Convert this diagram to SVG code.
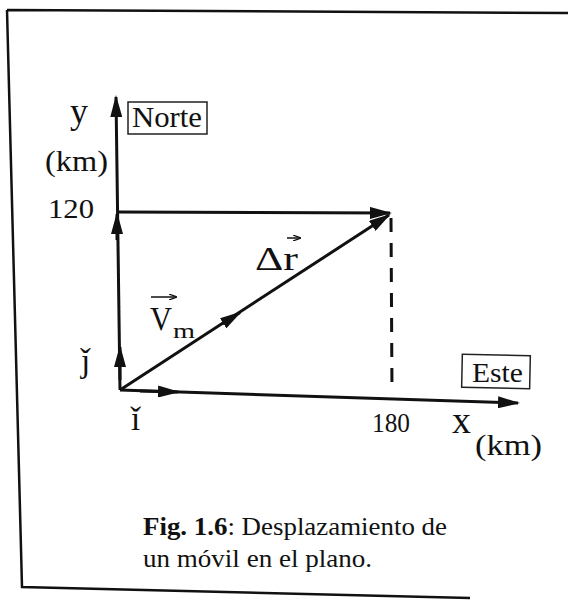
<svg xmlns="http://www.w3.org/2000/svg" width="568" height="601" viewBox="0 0 568 601">
<style>
text{font-family:"Liberation Serif","Times New Roman",serif;fill:#111}
.ax{stroke:#111;stroke-width:3;fill:none}
.fr{stroke:#111;stroke-width:2.5;fill:none}
.box{stroke:#222;stroke-width:1.5;fill:#fff}
.vec{stroke:#111;stroke-width:1.5;fill:none}
</style>
<defs>
<marker id="ah" viewBox="0 0 22 12" refX="20" refY="6" markerWidth="22" markerHeight="12" orient="auto" markerUnits="userSpaceOnUse">
<path d="M0,0 L22,6 L0,12 z" fill="#111"/>
</marker>
<marker id="sh" viewBox="0 0 8 6" refX="7" refY="3" markerWidth="8" markerHeight="6" orient="auto" markerUnits="userSpaceOnUse">
<path d="M0,0 L8,3 L0,6" fill="none" stroke="#111" stroke-width="1.2"/>
</marker>
</defs>
<rect width="568" height="601" fill="#fff"/>
<g id="frame">
<path class="fr" d="M7,10 L568,13 M7,10 L22,587 L470,598"/>
</g>
<g id="connectors">
<line id="y-axis" class="ax" x1="120" y1="390" x2="116" y2="97" marker-end="url(#ah)"/>
<line id="x-axis" class="ax" x1="120" y1="390" x2="518" y2="403" marker-end="url(#ah)"/>
<line id="y-component" class="ax" x1="117" y1="240" x2="117" y2="214" marker-end="url(#ah)"/>
<line id="x-component" class="ax" x1="117" y1="212" x2="390" y2="213" marker-end="url(#ah)"/>
<line id="delta-r" class="ax" x1="120" y1="390" x2="389" y2="215" marker-end="url(#ah)"/>
<line id="vm-mid" class="ax" x1="222" y1="324" x2="240" y2="312.5" marker-end="url(#ah)"/>
<line id="j-unit" class="ax" x1="120" y1="380" x2="120" y2="347" marker-end="url(#ah)"/>
<line id="i-unit" class="ax" x1="140" y1="391" x2="178" y2="392" marker-end="url(#ah)"/>
<line id="dashed" class="ax" x1="391" y1="218" x2="392" y2="392" stroke-dasharray="14 11"/>
</g>
<g id="norte">
<rect class="box" x="128" y="102" width="79" height="32"/>
<text x="132" y="127" font-size="29" textLength="70" lengthAdjust="spacingAndGlyphs">Norte</text>
</g>
<g id="este">
<rect class="box" x="462" y="355" width="68" height="33" transform="rotate(1.2 496 371)"/>
<text x="472" y="382" font-size="27" textLength="51" lengthAdjust="spacingAndGlyphs">Este</text>
</g>
<g id="y-label">
<text x="70" y="123" font-size="36">y</text>
<text x="45" y="171" font-size="29" textLength="63" lengthAdjust="spacingAndGlyphs">(km)</text>
</g>
<g id="x-label">
<text x="452" y="433" font-size="38">x</text>
<text x="475" y="455" font-size="29" textLength="67" lengthAdjust="spacingAndGlyphs">(km)</text>
</g>
<g id="ticks">
<text x="48" y="218" font-size="27" textLength="46" lengthAdjust="spacingAndGlyphs">120</text>
<text x="372" y="432" font-size="27" textLength="38" lengthAdjust="spacingAndGlyphs">180</text>
</g>
<g id="unit-labels">
<text x="81" y="372" font-size="33">ǰ</text>
<text x="131" y="430" font-size="33">ǐ</text>
</g>
<g id="vm-label">
<text x="150" y="330" font-size="33" textLength="22" lengthAdjust="spacingAndGlyphs">V</text>
<text x="173" y="338" font-size="22" textLength="22" lengthAdjust="spacingAndGlyphs">m</text>
<line class="vec" x1="151" y1="297" x2="176" y2="297" marker-end="url(#sh)"/>
</g>
<g id="dr-label">
<text x="255" y="270" font-size="33" textLength="43" lengthAdjust="spacingAndGlyphs">Δr</text>
<line class="vec" x1="287" y1="238" x2="300" y2="238" marker-end="url(#sh)"/>
</g>
<g id="caption">
<text x="143" y="535" font-size="26" textLength="304" lengthAdjust="spacingAndGlyphs"><tspan font-weight="bold">Fig. 1.6</tspan>: Desplazamiento de</text>
<text x="143" y="567" font-size="26" textLength="229" lengthAdjust="spacingAndGlyphs">un móvil en el plano.</text>
</g>
</svg>
